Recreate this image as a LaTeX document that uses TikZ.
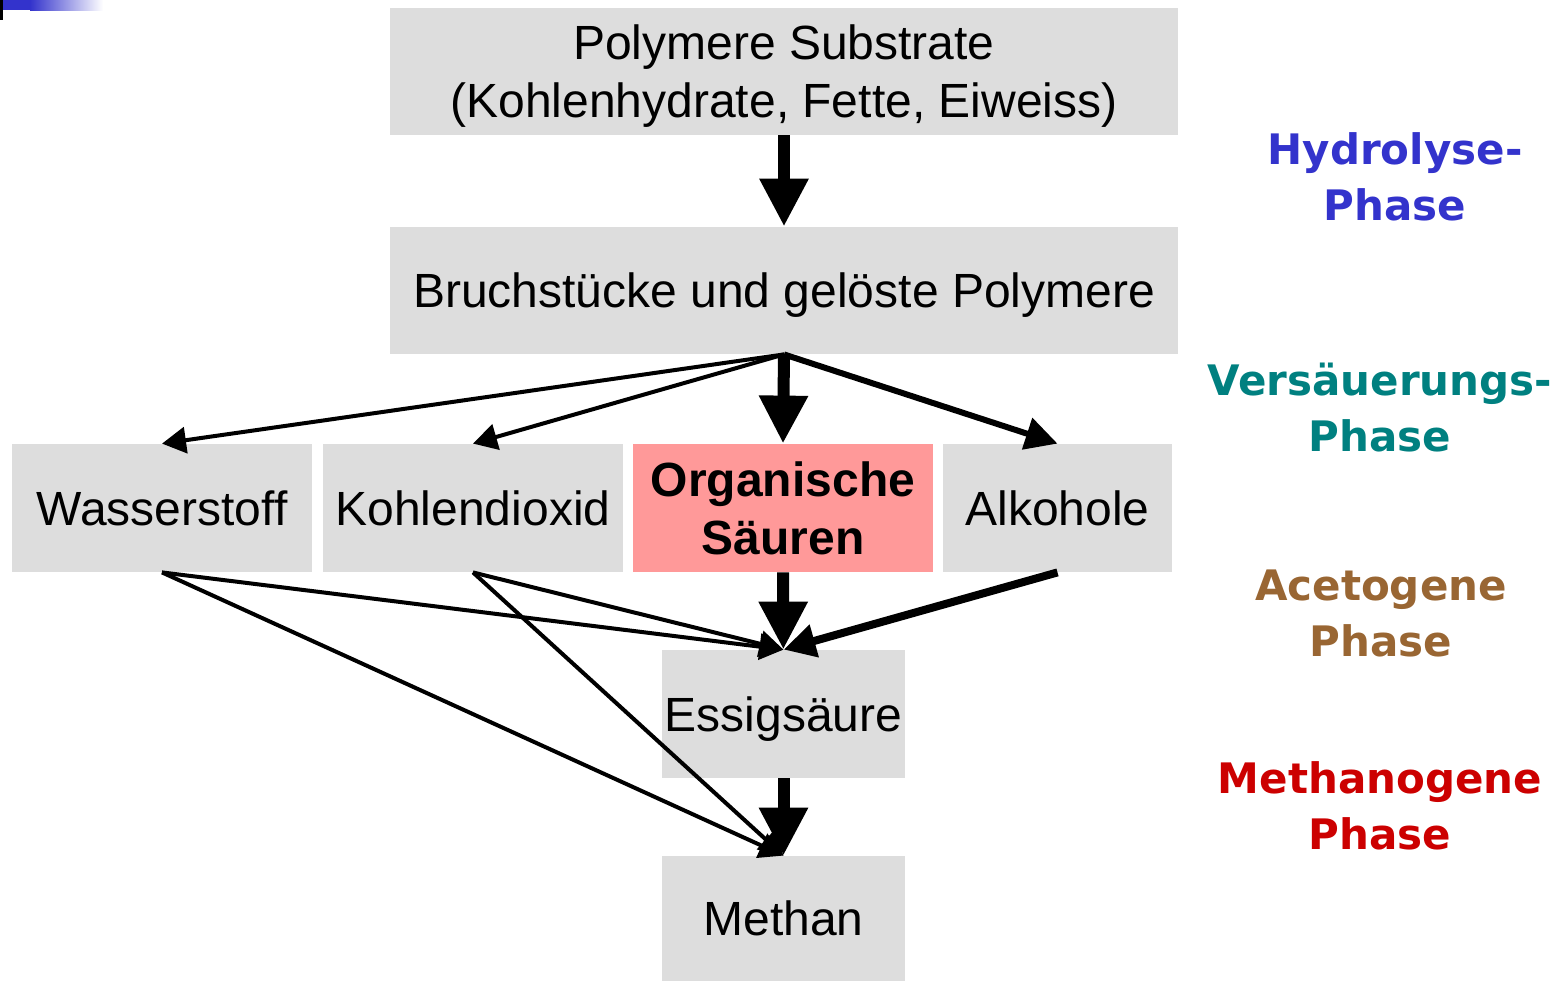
\documentclass[tikz,border=0pt]{standalone}
\usepackage{fontspec}
\setmainfont{Liberation Sans}
\newfontfamily\phasefont{DejaVu Sans}
\usetikzlibrary{arrows.meta}
\definecolor{boxgray} {HTML}{DDDDDD}
\definecolor{acidbg}  {HTML}{FF9999}
\definecolor{hydro}   {HTML}{3333CC}
\definecolor{acido}   {HTML}{008080}
\definecolor{aceto}   {HTML}{996633}
\definecolor{methano} {HTML}{CC0000}
\tikzset{
  cell/.style    ={fill=boxgray, inner sep=0pt, minimum height=64pt,
                   align=center, font=\fontsize{24}{29}\selectfont},
  box/.style     ={cell, text height=22pt, text depth=4.8pt},
  acidbox/.style ={cell, fill=acidbg, font=\fontsize{24}{29}\selectfont\bfseries},
  phase/.style   ={font=\phasefont\fontsize{21}{28}\selectfont\bfseries,
                   align=center},
  bigarr/.style  ={-{Triangle[length=24pt,width=23pt]}, line width=6pt},
  midarr/.style  ={-{Triangle[length=16pt,width=16pt]}, line width=3pt},
  thinarr/.style ={-{Triangle[length=12pt,width=13pt]}, line width=2pt},
}

\begin{document}
\begin{tikzpicture}[x=0.5pt,y=-0.5pt]
  \useasboundingbox (0,0) rectangle (1564,981);

  % corner bar
  \fill[black] (0,0) rectangle (3,20);
  \fill[hydro] (3,0) rectangle (30,10);
  \shade[left color=hydro, right color=white] (30,0) rectangle (103,10);

  \node[cell,text depth=0pt,minimum width=394pt,minimum height=63.5pt] (poly) at (784,71.5)
    {Polymere Substrate\\(Kohlenhydrate, Fette, Eiweiss)};
  \node[box,minimum width=394pt,minimum height=63.5pt] (bruch) at (784,290.5)
    {Bruchstücke und gelöste Polymere};

  \node[box,minimum width=150pt] (wasser) at (162,508) {Wasserstoff};
  \node[box,minimum width=150pt] (kohlen) at (473,508) {Kohlendioxid};
  \node[acidbox,minimum width=150pt] (acid) at (783,508) {Organische\\Säuren};
  \node[box,minimum width=114.5pt] (alkohol) at (1057.5,508) {Alkohole};

  \node[box,minimum width=121.5pt] (essig) at (783.5,714) {Essigsäure};
  \node[box,minimum width=121.5pt,minimum height=62.5pt] (methan) at (783.5,918.5) {Methan};

  \draw[bigarr] (poly) -- (bruch);
  \draw[thinarr] (bruch.south) -- (wasser.north);
  \draw[thinarr] (bruch.south) -- (kohlen.north);
  \draw[bigarr] (bruch.south) -- (acid.north);
  \draw[midarr] (bruch.south) -- (alkohol.north);

  \draw[thinarr] (wasser.south) -- (essig.north);
  \draw[thinarr] (wasser.south) -- (methan.north);
  \draw[thinarr] (kohlen.south) -- (essig.north);
  \draw[thinarr] (kohlen.south) -- (methan.north);
  \draw[bigarr] (acid) -- (essig);
  \draw[midarr,line width=4pt] (alkohol.south) -- (essig.north);
  \draw[bigarr] (essig) -- (methan);

  % phases
  \node[phase,text=hydro] (hyd) at (1395,177) {Hydrolyse-\\Phase};
  \node[phase,text=acido] (vers) at (1380,408) {Versäuerungs-\\Phase};
  \node[phase,text=aceto] (acet) at (1381,613) {Acetogene\\Phase};
  \node[phase,text=methano] (meth) at (1380,806) {Methanogene\\Phase};
\end{tikzpicture}
\end{document}
